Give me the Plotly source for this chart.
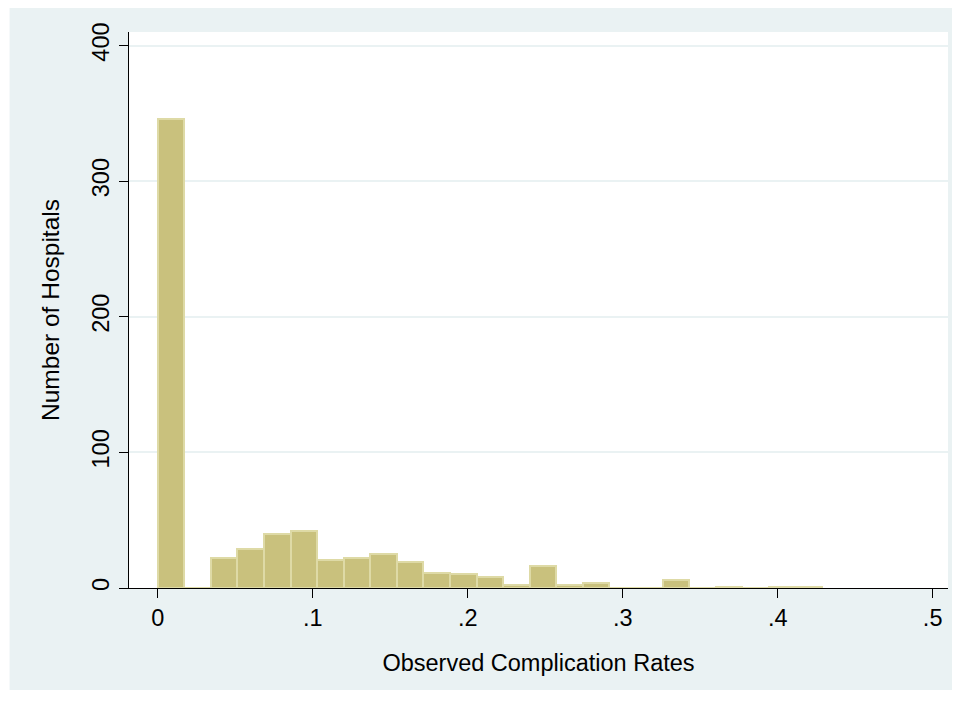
import plotly.graph_objects as go

# Histogram data: 25 equal-width bins from 0 to 3/7
bin_start = 0.0
bin_end = 3 / 7
n_bins = 25
counts = [346, 0, 22, 29, 40, 42, 21, 22, 25, 19, 11, 10, 8, 2, 16, 2, 4,
          0, 0, 6, 0, 1, 0, 1, 1]

x_tickvals = [0, 0.1, 0.2, 0.3, 0.4, 0.5]
x_ticktext = ["0", ".1", ".2", ".3", ".4", ".5"]
y_tickvals = [0, 100, 200, 300, 400]
y_ticktext = ["0", "100", "200", "300", "400"]

x_title = "Observed Complication Rates"
y_title = "Number of Hospitals"

bw = (bin_end - bin_start) / n_bins
centers = [bin_start + bw * (i + 0.5) for i in range(n_bins)]

OFF = 8  # page body margin offset
W, H = 961 - OFF, 703 - OFF
ml, mr, mt, mb = 128.5 - OFF, 13, 32 - OFF, 115
pw = W - ml - mr
ph = H - mt - mb

fig = go.Figure()
fig.add_trace(go.Bar(
    x=centers, y=counts, width=[bw] * n_bins,
    marker=dict(color="#C9C17D", line=dict(color="#DEDAA6", width=2)),
    hoverinfo="x+y",
))

font = dict(family="Liberation Sans, Arial, sans-serif", color="#000000", size=23.5)
ytitle_font = dict(family="Liberation Sans, Arial, sans-serif", color="#000000", size=24.5)

fig.update_layout(
    width=W, height=H,
    margin=dict(l=ml, r=mr, t=mt, b=mb, pad=0),
    paper_bgcolor="#FFFFFF",
    plot_bgcolor="rgba(0,0,0,0)",
    font=font,
    showlegend=False,
    bargap=0,
    shapes=[
        dict(type="rect", xref="paper", yref="paper", layer="below",
             x0=(9 - OFF - ml) / pw, x1=(952 - OFF - ml) / pw,
             y0=1 - (690 - OFF - mt) / ph, y1=1 + (mt - (6 - OFF)) / ph,
             fillcolor="#EAF2F3", line=dict(width=0)),
        dict(type="rect", xref="paper", yref="paper", layer="below",
             x0=0, x1=1, y0=0, y1=1,
             fillcolor="#FFFFFF", line=dict(width=0)),
    ],
    xaxis=dict(
        range=[-0.01857, 0.5099],
        tickvals=x_tickvals, ticktext=x_ticktext,
        showgrid=False, zeroline=False,
        showline=True, linecolor="#000000", linewidth=1,
        ticks="outside", ticklen=9, tickwidth=1, tickcolor="#000000",
        tickfont=font,
        title=dict(text=x_title, font=font, standoff=24),
    ),
    yaxis=dict(
        range=[0, 410],
        tickvals=y_tickvals, ticktext=y_ticktext,
        tickangle=-90,
        ticklabelstandoff=1,
        showgrid=True, gridcolor="#EAF2F3", gridwidth=1.5,
        zeroline=False,
        showline=True, linecolor="#000000", linewidth=1,
        ticks="outside", ticklen=9, tickwidth=1, tickcolor="#000000",
        tickfont=font,
        title=dict(text=y_title, font=ytitle_font, standoff=21),
    ),
)

fig.write_html("out.html")
